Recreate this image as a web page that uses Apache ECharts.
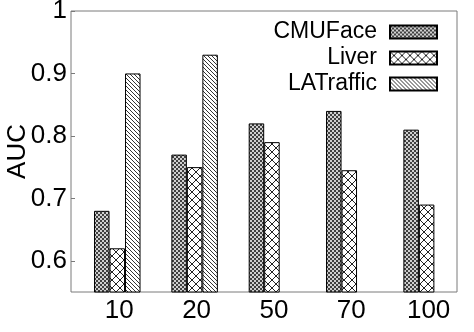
<!DOCTYPE html>
<html>
<head>
<meta charset="utf-8">
<script src="https://cdn.jsdelivr.net/npm/echarts@6/dist/echarts.min.js"></script>
<style>
  html, body { margin: 0; padding: 0; background: #fff; }
  #chart { width: 474px; height: 332px; }
</style>
</head>
<body>
<div id="chart"></div>
<script>
// data
const categories = ['10', '20', '50', '70', '100']
const cmuFace = [0.68, 0.77, 0.82, 0.84, 0.81]
const liver = [0.62, 0.75, 0.79, 0.745, 0.69]
const laTraffic = [0.90, 0.93, null, null, null]
const yTicks = [0.6, 0.7, 0.8, 0.9, 1]

const FONT = 'Liberation Sans, Arial, Helvetica, sans-serif'

// small canvas tiles used as fill patterns
const makeTile = (size, draw) => {
  const c = document.createElement('canvas')
  c.width = size
  c.height = size
  const ctx = c.getContext('2d')
  draw(ctx, size)
  return { image: c, repeat: 'repeat' }
}

// fine checker (CMUFace)
const checker = makeTile(4, (ctx) => {
  ctx.fillStyle = '#d0d0d0'
  ctx.fillRect(0, 0, 4, 4)
  ctx.fillStyle = '#404040'
  ctx.fillRect(0, 0, 2, 2)
  ctx.fillRect(2, 2, 2, 2)
})

// open diamond cross hatch (Liver)
const cross = makeTile(8, (ctx, s) => {
  ctx.fillStyle = '#fff'
  ctx.fillRect(0, 0, s, s)
  ctx.strokeStyle = '#222'
  ctx.lineWidth = 1
  ctx.beginPath()
  ctx.moveTo(0, 0); ctx.lineTo(s, s)
  ctx.moveTo(s, 0); ctx.lineTo(0, s)
  ctx.stroke()
})

// dense back-slash lines (LATraffic)
const slash = makeTile(4, (ctx, s) => {
  ctx.fillStyle = '#fff'
  ctx.fillRect(0, 0, s, s)
  ctx.strokeStyle = '#333'
  ctx.lineWidth = 1
  ctx.beginPath()
  ctx.moveTo(-1, -1); ctx.lineTo(s + 1, s + 1)
  ctx.moveTo(-1, s - 1); ctx.lineTo(1, s + 1)
  ctx.moveTo(s - 1, -1); ctx.lineTo(s + 1, 1)
  ctx.stroke()
})

const chart = echarts.init(document.getElementById('chart'))

const barStyle = (fill) => ({
  color: fill,
  borderColor: '#000',
  borderWidth: 1
})

const option = {
  animation: false,
  backgroundColor: '#fff',
  textStyle: { fontFamily: FONT },
  grid: {
    left: 78.6,
    right: 8.7,
    top: 11,
    bottom: 40,
    containLabel: false,
    outerBoundsMode: 'none'
  },
  // plot frame
  graphic: [
    {
      type: 'rect',
      shape: { x: 71, y: 11, width: 386, height: 281 },
      style: { fill: 'none', stroke: '#7a7a7a', lineWidth: 1 },
      z: 0
    }
  ],
  legend: {
    orient: 'vertical',
    right: 31,
    top: 15,
    align: 'right',
    itemWidth: 47,
    itemHeight: 13,
    itemGap: 2,
    icon: 'rect',
    textStyle: {
      fontFamily: FONT,
      fontSize: 23,
      color: '#000',
      lineHeight: 24,
      padding: [0, 8, 0, 0]
    },
    data: ['CMUFace', 'Liver', 'LATraffic']
  },
  xAxis: {
    type: 'category',
    data: categories,
    axisLine: { show: false },
    axisTick: { show: false },
    axisLabel: {
      fontFamily: FONT,
      fontSize: 26,
      color: '#000',
      margin: 6,
      padding: [0, 0, 0, 4]
    }
  },
  yAxis: {
    type: 'value',
    min: 0.55,
    max: 1,
    offset: 7.6,
    name: 'AUC',
    nameLocation: 'middle',
    nameGap: 40,
    nameMoveOverlap: false,
    nameTextStyle: { fontFamily: FONT, fontSize: 26, color: '#000' },
    splitLine: { show: false },
    axisLine: { show: false },
    axisTick: {
      show: true,
      inside: true,
      length: 4,
      lineStyle: { color: '#7a7a7a' },
      customValues: yTicks
    },
    axisLabel: {
      fontFamily: FONT,
      fontSize: 26,
      color: '#000',
      margin: 4,
      customValues: yTicks
    }
  },
  series: [
    {
      name: 'CMUFace',
      type: 'bar',
      barWidth: 15.5,
      barGap: '0%',
      data: cmuFace,
      itemStyle: barStyle(checker)
    },
    {
      name: 'Liver',
      type: 'bar',
      barWidth: 15.5,
      barGap: '0%',
      data: liver,
      itemStyle: barStyle(cross)
    },
    {
      name: 'LATraffic',
      type: 'bar',
      barWidth: 15.5,
      barGap: '0%',
      data: laTraffic,
      itemStyle: barStyle(slash)
    }
  ]
}

chart.setOption(option)
</script>
</body>
</html>
